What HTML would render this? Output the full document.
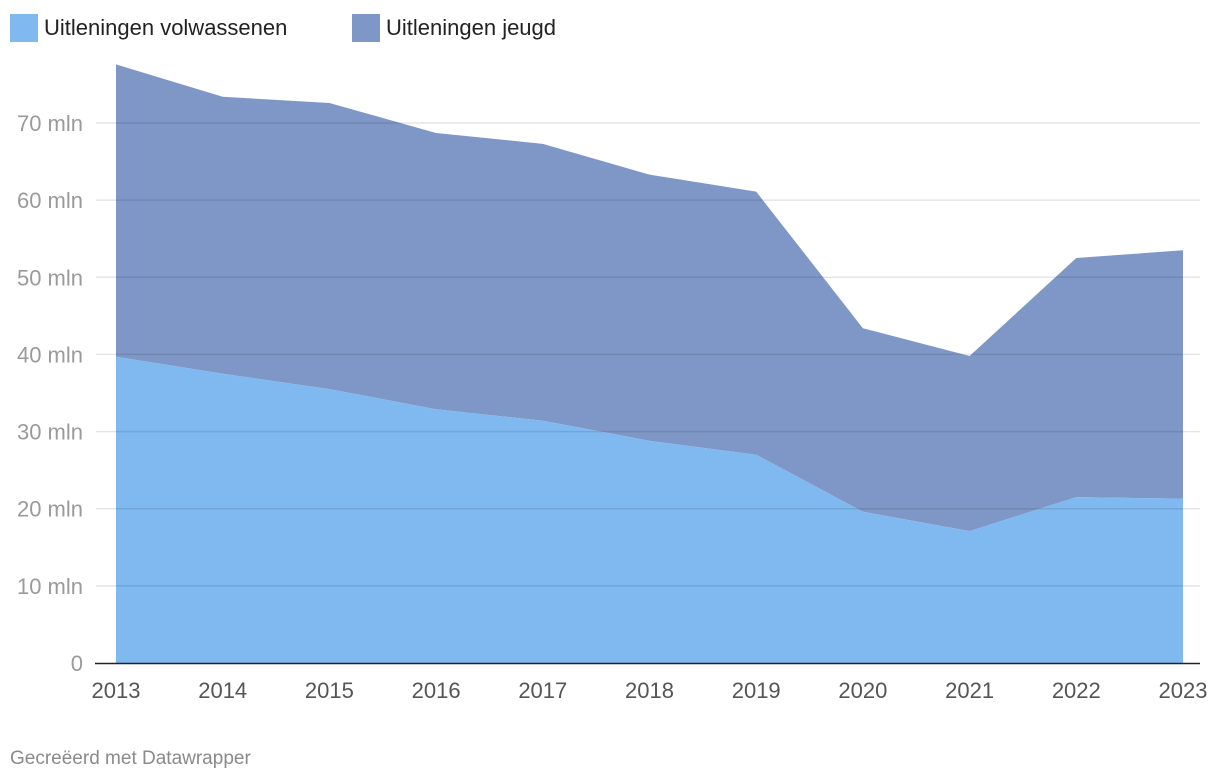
<!DOCTYPE html>
<html><head><meta charset="utf-8"><style>
body{margin:0;background:#fff;font-family:"Liberation Sans",sans-serif;}
svg{display:block}
</style></head><body>
<svg width="1220" height="782">
<g>
<rect x="10" y="14" width="28" height="28" fill="#7fb9f0"/>
<text x="44" y="35" font-size="22" fill="#222">Uitleningen volwassenen</text>
<rect x="352" y="14" width="28" height="28" fill="#7f97c6"/>
<text x="386" y="35" font-size="22" fill="#222">Uitleningen jeugd</text>
</g>
<g id="areas"></g>
<g id="grid"></g>
<g id="xaxis"></g>
<text x="10" y="764" font-size="19" fill="#8a8a8a">Gecreëerd met Datawrapper</text>
</svg>
<script>
const years=["2013","2014","2015","2016","2017","2018","2019","2020","2021","2022","2023"];
const adults=[39.7,37.5,35.5,32.9,31.4,28.8,27.0,19.6,17.1,21.5,21.3];
const youth=[37.9,35.9,37.1,35.8,35.9,34.5,34.1,23.8,22.7,31.0,32.2];
const yTicks=[0,10,20,30,40,50,60,70];
const NS="http://www.w3.org/2000/svg";
const xs=i=>116+i*(1183-116)/(years.length-1);
const ys=v=>663-v*(540/70);
function el(t,a,p){const e=document.createElementNS(NS,t);for(const k in a)e.setAttribute(k,a[k]);p.appendChild(e);return e;}
const areas=document.getElementById('areas');
const upperPts=[],lowerPts=[];
years.forEach((d,i)=>{lowerPts.push(xs(i)+','+ys(adults[i]));upperPts.push(xs(i)+','+ys(adults[i]+youth[i]));});
const a1=el('polygon',{points:upperPts.join(' ')+' '+lowerPts.slice().reverse().join(' '),fill:'#7f97c6'},areas);


const a2=el('polygon',{points:lowerPts.join(' ')+' '+xs(years.length-1)+','+ys(0)+' '+xs(0)+','+ys(0),fill:'#7fb9f0'},areas);


const grid=document.getElementById('grid');
yTicks.forEach(v=>{
 if(v>0){const l=el('line',{x1:96,x2:1200,y1:ys(v),y2:ys(v),stroke:'rgba(0,0,0,0.1)','stroke-width':1.5},grid);
 
 }
 const t=el('text',{x:83,y:ys(v)+8,'text-anchor':'end','font-size':22,fill:'#9a9a9a'},grid);
 
 
 t.textContent=v===0?'0':v+' mln';
});
const xa=document.getElementById('xaxis');
const b=el('line',{x1:95,x2:1200,y1:663.5,y2:663.5,stroke:'#222','stroke-width':1.5},xa);


years.forEach((d,i)=>{const t=el('text',{x:xs(i),y:698,'text-anchor':'middle','font-size':22,fill:'#555'},xa);


t.textContent=d;});
</script>
</body></html>
